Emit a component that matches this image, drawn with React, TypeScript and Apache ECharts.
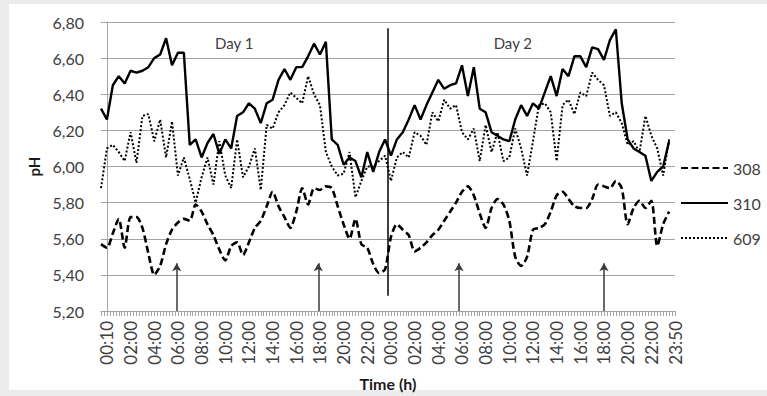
import React, { useEffect, useRef } from 'react';
import * as echarts from 'echarts';

// Sampling grid of the pH readings: first reading at -0.5 h, one reading every half hour.
const FIRST_HOUR = -0.5;
const STEP_HOURS = 0.5;

// pH readings, one row per 8 hours of recording
const PH_308 = [
  5.57, 5.55, 5.63, 5.71, 5.55, 5.72, 5.72, 5.66, 5.52, 5.40, 5.45, 5.57, 5.65, 5.69, 5.71, 5.70,
  5.79, 5.75, 5.68, 5.62, 5.54, 5.48, 5.56, 5.58, 5.51, 5.58, 5.66, 5.70, 5.78, 5.86, 5.78, 5.72,
  5.66, 5.75, 5.88, 5.79, 5.88, 5.87, 5.89, 5.88, 5.78, 5.68, 5.60, 5.71, 5.57, 5.55, 5.46, 5.41,
  5.43, 5.61, 5.68, 5.65, 5.62, 5.53, 5.55, 5.58, 5.62, 5.65, 5.70, 5.75, 5.80, 5.86, 5.89, 5.84,
  5.74, 5.66, 5.77, 5.82, 5.79, 5.70, 5.50, 5.45, 5.50, 5.65, 5.66, 5.68, 5.75, 5.84, 5.86, 5.82,
  5.78, 5.77, 5.77, 5.82, 5.90, 5.89, 5.88, 5.92, 5.88, 5.68, 5.77, 5.81, 5.77, 5.81, 5.56, 5.68,
  5.75,
];

const PH_310 = [
  6.32, 6.26, 6.45, 6.50, 6.46, 6.53, 6.52, 6.53, 6.55, 6.60, 6.62, 6.71, 6.56, 6.63, 6.63, 6.12,
  6.15, 6.05, 6.13, 6.18, 6.07, 6.15, 6.10, 6.28, 6.30, 6.35, 6.32, 6.24, 6.35, 6.37, 6.48, 6.54,
  6.48, 6.55, 6.55, 6.61, 6.68, 6.62, 6.69, 6.15, 6.12, 6.01, 6.05, 6.03, 5.94, 6.08, 5.97, 6.08,
  6.15, 6.06, 6.15, 6.19, 6.26, 6.34, 6.26, 6.34, 6.41, 6.48, 6.43, 6.45, 6.46, 6.56, 6.39, 6.55,
  6.32, 6.30, 6.19, 6.17, 6.15, 6.14, 6.26, 6.34, 6.28, 6.35, 6.32, 6.41, 6.50, 6.39, 6.54, 6.50,
  6.61, 6.61, 6.55, 6.66, 6.65, 6.59, 6.70, 6.76, 6.35, 6.15, 6.10, 6.08, 6.06, 5.92, 5.97, 6.00,
  6.14,
];

const PH_609 = [
  5.88, 6.10, 6.12, 6.08, 6.03, 6.19, 6.02, 6.28, 6.29, 6.14, 6.26, 6.05, 6.25, 5.95, 6.05, 5.93,
  5.80, 5.94, 6.05, 5.90, 6.14, 5.95, 5.88, 6.15, 5.94, 6.00, 6.10, 5.87, 6.23, 6.21, 6.30, 6.34,
  6.41, 6.38, 6.35, 6.50, 6.40, 6.34, 6.08, 6.00, 5.95, 5.96, 6.08, 5.83, 5.92, 6.00, 6.00, 6.03,
  6.06, 5.92, 6.05, 6.08, 6.05, 6.19, 6.17, 6.12, 6.30, 6.25, 6.37, 6.32, 6.34, 6.19, 6.15, 6.21,
  6.03, 6.23, 6.08, 6.19, 6.03, 6.05, 6.21, 6.10, 5.95, 6.14, 6.34, 6.35, 6.30, 6.03, 6.34, 6.37,
  6.29, 6.41, 6.39, 6.52, 6.48, 6.45, 6.28, 6.30, 6.24, 6.12, 6.14, 6.08, 6.28, 6.17, 6.10, 5.95,
  6.15,
];

const SERIES_NAMES = ['308', '310', '609'];

// Time-axis labels, one every two hours over the two days
const TIME_LABELS = [
  '00:10', '02:00', '04:00', '06:00', '08:00', '10:00', '12:00', '14:00', '16:00', '18:00', '20:00', '22:00',
  '00:00', '02:00', '04:00', '06:00', '08:00', '10:00', '12:00', '14:00', '16:00', '18:00', '20:00', '22:00',
  '23:50',
];

// Hours (from the start of day 1) of the feeding events marked with arrows
const FEEDING_HOURS = [5.9, 17.86, 29.75, 42];
// Day boundary
const MIDNIGHT_HOUR = 23.75;
const DAY_NAMES = ['Day 1', 'Day 2'];
const DAY_CENTRE_HOURS = [10.75, 34.3];

const Y_MIN = 5.2;
const Y_MAX = 6.8;
const Y_STEP = 0.2;

// Category slots on the time axis: 4 per hour, labels every 8 slots
const SLOTS_PER_HOUR = 4;
const AXIS_START_HOUR = -0.5;
const AXIS_END_HOUR = 48;
const LABEL_EVERY = 8;

const FONT = 'Lato, "Open Sans", sans-serif';
const TEXT = '#404040';
const GRID = '#a3a3a3';

function toPoints(values: number[]) {
  return values.map((v, i) => [FIRST_HOUR + i * STEP_HOURS, v]);
}

export default function App() {
  const ref = useRef<HTMLDivElement>(null);

  useEffect(() => {
    if (!ref.current) return;
    const chart = echarts.init(ref.current, null, { renderer: 'svg' });

    const slotCount = (AXIS_END_HOUR - AXIS_START_HOUR) * SLOTS_PER_HOUR + 1;
    const firstLabelSlot = -AXIS_START_HOUR * SLOTS_PER_HOUR;
    const slots = Array.from({ length: slotCount }, (_, i) => String(i));

    const arrowLines = FEEDING_HOURS.map((h) => [
      { coord: [h, Y_MIN] },
      { coord: [h, 5.465] },
    ]);

    const option: echarts.EChartsOption = {
      animation: false,
      backgroundColor: '#ececec',
      textStyle: { fontFamily: FONT },
      graphic: [
        {
          type: 'rect',
          z: -10,
          silent: true,
          shape: { x: 9, y: 4, width: 758, height: 386 },
          style: { fill: '#ffffff' },
        },
      ],
      grid: { left: 101, right: 92, top: 22, bottom: 80 },
      legend: {
        data: SERIES_NAMES,
        orient: 'vertical',
        left: 680,
        top: 160,
        padding: 0,
        itemWidth: 47,
        itemHeight: 10,
        itemGap: 19,
        // line samples only, no marker in the middle
        itemStyle: { opacity: 0 },
        textStyle: { fontSize: 16, color: TEXT, fontFamily: FONT, lineHeight: 16 },
      },
      xAxis: [
        {
          type: 'category',
          data: slots,
          boundaryGap: false,
          name: 'Time (h)',
          nameLocation: 'middle',
          nameGap: 64,
          nameTextStyle: { fontSize: 16, fontWeight: 'bold', color: '#1a1a1a', fontFamily: FONT },
          axisLine: { lineStyle: { color: GRID, width: 1 } },
          axisTick: { interval: 0, length: 5, lineStyle: { color: GRID } },
          axisLabel: {
            interval: 0,
            rotate: 90,
            margin: 10,
            fontSize: 17,
            color: TEXT,
            fontFamily: FONT,
            formatter: (_v: string, i: number) => {
              const k = i - firstLabelSlot;
              return k >= 0 && k % LABEL_EVERY === 0 ? TIME_LABELS[k / LABEL_EVERY] ?? '' : '';
            },
          },
          splitLine: { show: false },
        },
        {
          type: 'value',
          min: AXIS_START_HOUR,
          max: AXIS_END_HOUR,
          show: false,
        },
      ],
      yAxis: {
        type: 'value',
        min: Y_MIN,
        max: Y_MAX,
        interval: Y_STEP,
        name: 'pH',
        nameLocation: 'middle',
        nameGap: 57,
        nameTextStyle: { fontSize: 15, fontWeight: 'bold', color: '#1a1a1a', fontFamily: FONT },
        axisLine: { show: true, lineStyle: { color: GRID } },
        axisTick: { show: true, length: 6, lineStyle: { color: GRID } },
        axisLabel: {
          margin: 17,
          fontSize: 16,
          color: TEXT,
          fontFamily: FONT,
          formatter: (v: number) => v.toFixed(2).replace('.', ','),
        },
        splitLine: { lineStyle: { color: GRID, width: 1 } },
      },
      series: [
        {
          name: '308',
          type: 'line',
          xAxisIndex: 1,
          data: toPoints(PH_308),
          symbol: 'none',
          smooth: 0.25,
          lineStyle: { color: '#000', width: 2.6, type: [7, 3.5] },
          itemStyle: { color: '#000' },
        },
        {
          name: '310',
          type: 'line',
          xAxisIndex: 1,
          data: toPoints(PH_310),
          symbol: 'none',
          lineStyle: { color: '#000', width: 2.4 },
          itemStyle: { color: '#000' },
          markLine: {
            silent: true,
            symbol: 'none',
            label: { show: false },
            lineStyle: { color: '#000', width: 1.5, type: 'solid' },
            data: [
              [
                { coord: [MIDNIGHT_HOUR, 6.765] },
                { coord: [MIDNIGHT_HOUR, 5.285] },
              ],
            ] as any,
          },
          markPoint: {
            silent: true,
            symbol: 'rect',
            symbolSize: 1,
            itemStyle: { color: 'rgba(0,0,0,0)' },
            label: {
              show: true,
              position: 'inside',
              formatter: '{b}',
              fontSize: 15,
              color: TEXT,
              fontFamily: FONT,
            },
            data: DAY_NAMES.map((n, i) => ({ name: n, coord: [DAY_CENTRE_HOURS[i], 6.684] })),
          },
        },
        {
          name: '609',
          type: 'line',
          xAxisIndex: 1,
          data: toPoints(PH_609),
          symbol: 'none',
          lineStyle: { color: '#000', width: 2, type: [2, 2] },
          itemStyle: { color: '#000' },
          markLine: {
            silent: true,
            symbol: ['none', 'arrow'],
            symbolSize: [7, 8],
            label: { show: false },
            lineStyle: { color: '#3a3a3a', width: 1.5, type: 'solid' },
            data: arrowLines as any,
          },
        },
      ],
    };

    chart.setOption(option);
    return () => chart.dispose();
  }, []);

  return (
    <div
      ref={ref}
      style={{ position: 'fixed', left: 0, top: 0, width: 767, height: 396 }}
    />
  );
}
